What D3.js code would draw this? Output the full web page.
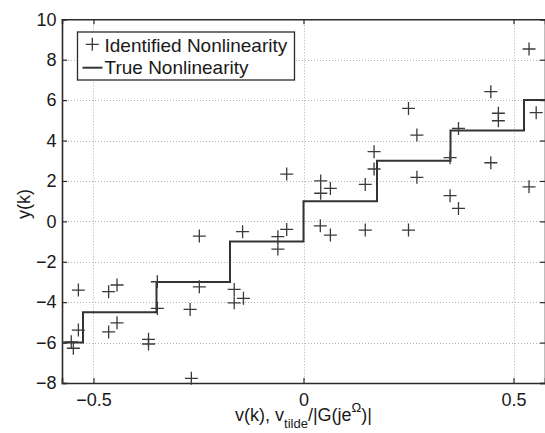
<!DOCTYPE html>
<html>
<head>
<meta charset="utf-8">
<script src="https://cdn.jsdelivr.net/npm/d3@7"></script>
<style>
  html, body { margin: 0; padding: 0; background: #fff; }
  svg { display: block; font-family: "Liberation Sans", Arial, sans-serif; }
</style>
</head>
<body>
<svg id="chart" width="545" height="433"></svg>
<script>
// Identified nonlinearity (scatter "+")
const identX = [-0.536, -0.464, -0.444, -0.348, -0.348, -0.536, -0.553, -0.548, -0.464, -0.444, -0.369, -0.369,
  -0.040, -0.248, -0.145, -0.061, -0.040, -0.061, -0.248, -0.165, -0.165, -0.143, -0.270, -0.267,
  0.250, 0.270, 0.168, 0.168, 0.147, 0.270, 0.041, 0.064, 0.041, 0.040, 0.064, 0.147, 0.250,
  0.537, 0.446, 0.464, 0.464, 0.554, 0.369, 0.349, 0.446, 0.537, 0.349, 0.369];
const identY = [-3.40, -3.48, -3.15, -2.99, -4.31, -5.38, -5.96, -6.28, -5.47, -5.02, -5.84, -6.07,
  2.34, -0.73, -0.51, -0.76, -0.40, -1.37, -3.24, -3.37, -4.03, -3.81, -4.36, -7.77,
  5.59, 4.27, 3.45, 2.59, 1.83, 2.18, 2.00, 1.63, 1.39, -0.22, -0.68, -0.43, -0.43,
  8.53, 6.42, 5.35, 4.98, 5.38, 4.60, 3.15, 2.90, 1.71, 1.27, 0.64];

// True nonlinearity (staircase)
const stepEdges = [-0.575, -0.525, -0.35, -0.175, 0, 0.175, 0.35, 0.525, 0.575];
const stepLevels = [-6, -4.5, -3, -1, 1, 3, 4.5, 6];

const xTicks = [-0.5, 0, 0.5];
const xTickLabels = ["\u22120.5", "0", "0.5"];
const yTicks = [-8, -6, -4, -2, 0, 2, 4, 6, 8, 10];
const yTickLabels = ["\u22128", "\u22126", "\u22124", "\u22122", "0", "2", "4", "6", "8", "10"];

const legendLabels = ["Identified Nonlinearity", "True Nonlinearity"];

const svg = d3.select("#chart");
const L = 62, R = 545, T = 19.3, B = 383;
const x = d3.scaleLinear().domain([-0.575, 0.575]).range([L, R]);
const y = d3.scaleLinear().domain([-8, 10]).range([B, T]);

const ink = "#2a2a2a";

// grid
const grid = svg.append("g").attr("stroke", "#b0b0b0").attr("stroke-width", 1).attr("stroke-dasharray", "1,2");
grid.selectAll(".gx").data(xTicks).enter().append("line")
  .attr("x1", d => Math.round(x(d)) + 0.5).attr("x2", d => Math.round(x(d)) + 0.5)
  .attr("y1", T).attr("y2", B);
grid.selectAll(".gy").data(yTicks.filter(d => d > -8 && d < 10)).enter().append("line")
  .attr("y1", d => Math.round(y(d)) + 0.5).attr("y2", d => Math.round(y(d)) + 0.5)
  .attr("x1", L).attr("x2", R);

// axes with inward ticks
const axB = d3.axisBottom(x).tickValues(xTicks).tickSize(-5).tickPadding(10).tickFormat((d, i) => xTickLabels[i]);
const axT = d3.axisTop(x).tickValues(xTicks).tickSize(-5).tickFormat("");
const axL = d3.axisLeft(y).tickValues(yTicks).tickSize(-5).tickPadding(5.5).tickFormat((d, i) => yTickLabels[i]);
const axR = d3.axisRight(y).tickValues(yTicks).tickSize(-5).tickFormat("");

function styleAxis(g) {
  g.select(".domain").attr("stroke", ink).attr("stroke-width", 1.6);
  g.selectAll(".tick line").attr("stroke", ink).attr("stroke-width", 1.2);
  g.selectAll(".tick text").attr("fill", "#1a1a1a").style("font-size", "18px")
    .style("font-family", "'Liberation Sans', Arial, sans-serif");
}
svg.append("g").attr("transform", `translate(0,${B})`).call(axB).call(styleAxis);
svg.append("g").attr("transform", `translate(0,${T})`).call(axT).call(styleAxis);
svg.append("g").attr("transform", `translate(${L},0)`).call(axL).call(styleAxis);
svg.append("g").attr("transform", `translate(${R},0)`).call(axR).call(styleAxis);

// step line
const stepData = stepLevels.map((v, i) => [stepEdges[i], v]);
stepData.push([stepEdges[stepEdges.length - 1], stepLevels[stepLevels.length - 1]]);
const line = d3.line().x(d => x(d[0])).y(d => y(d[1])).curve(d3.curveStepAfter);
svg.append("path").datum(stepData).attr("d", line)
  .attr("fill", "none").attr("stroke", "#333").attr("stroke-width", 2);

// plus markers
const ms = 6.5;
const pts = identX.map((v, i) => [v, identY[i]]);
const plus = svg.append("g").attr("stroke", "#3a3a3a").attr("stroke-width", 1.3).attr("fill", "none");
plus.selectAll("path").data(pts).enter().append("path")
  .attr("d", d => {
    const px = x(d[0]), py = y(d[1]);
    return `M${px - ms},${py}H${px + ms}M${px},${py - ms}V${py + ms}`;
  });

// legend
const lg = svg.append("g");
lg.append("rect").attr("x", 77.5).attr("y", 32).attr("width", 217).attr("height", 48)
  .attr("fill", "#fff").attr("stroke", ink).attr("stroke-width", 1.3);
lg.append("path").attr("d", `M${92.3 - ms},44.3H${92.3 + ms}M92.3,${44.3 - ms}V${44.3 + ms}`)
  .attr("stroke", "#3a3a3a").attr("stroke-width", 1.3);
lg.append("line").attr("x1", 82.5).attr("x2", 102.5).attr("y1", 67.7).attr("y2", 67.7)
  .attr("stroke", "#333").attr("stroke-width", 2);
lg.selectAll("text").data(legendLabels).enter().append("text")
  .attr("x", 104.5).attr("y", (d, i) => i === 0 ? 51.5 : 74)
  .attr("fill", "#1a1a1a").style("font-size", "19px").text(d => d);

// axis labels
svg.append("text").attr("transform", "translate(30,204) rotate(-90)")
  .attr("text-anchor", "middle").attr("fill", "#1a1a1a").style("font-size", "18px").text("y(k)");

const xl = svg.append("text").attr("x", 303.5).attr("y", 421).attr("text-anchor", "middle")
  .attr("fill", "#1a1a1a").style("font-size", "18px");
xl.append("tspan").text("v(k), v");
xl.append("tspan").attr("dy", 7).style("font-size", "13px").text("tilde");
xl.append("tspan").attr("dy", -7).text("/|G(je");
xl.append("tspan").attr("dy", -9).style("font-size", "13px").text("\u03A9");
xl.append("tspan").attr("dy", 9).text(")|");
</script>
</body>
</html>
